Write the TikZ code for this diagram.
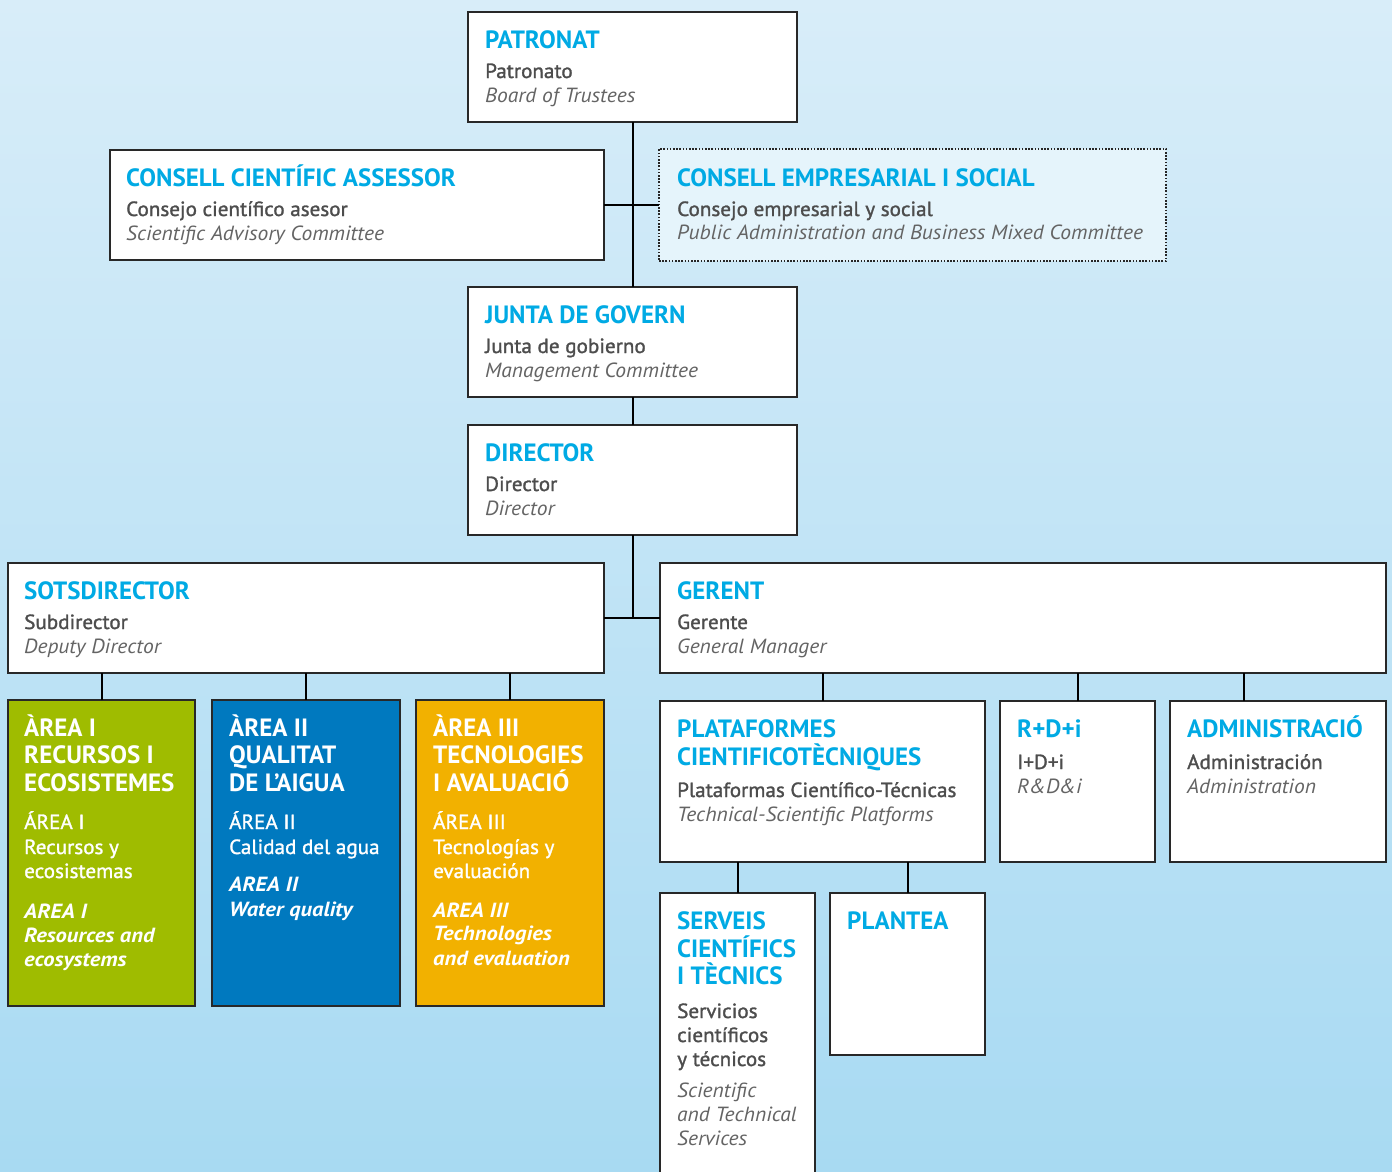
\documentclass[tikz,border=0pt]{standalone}
\usepackage{fontspec}
\setmainfont{PT Sans}
\newfontfamily\subfont[FakeBold=1.4, FakeStretch=1.03]{PT Sans}
\newfontfamily\itfont[FakeStretch=1.05]{PT Sans}
\newfontfamily\bifont[FakeStretch=1.1]{PT Sans}
\usetikzlibrary{calc}
\definecolor{bgtop}{RGB}{216,237,249}
\definecolor{bgbot}{RGB}{168,218,242}
\definecolor{ttl}{RGB}{0,170,228}
\definecolor{gtx}{RGB}{77,77,77}
\definecolor{itx}{RGB}{100,100,100}
\definecolor{agreen}{RGB}{159,188,0}
\definecolor{ablue}{RGB}{0,121,191}
\definecolor{aorange}{RGB}{242,177,0}
\definecolor{cesfill}{RGB}{229,244,251}
\definecolor{edge}{RGB}{40,40,40}
\tikzset{
 box/.style={draw=edge, line width=1.2pt, fill=white, anchor=north west, inner sep=0pt, outer sep=0pt},
 conn/.style={draw=black, line width=2pt},
 tt/.style={anchor=base west, inner sep=0pt, text=ttl, font=\fontsize{25}{28}\selectfont\bfseries},
 gt/.style={anchor=base west, inner sep=0pt, text=gtx, font=\subfont\fontsize{20.5}{24}\selectfont},
 it/.style={anchor=base west, inner sep=0pt, text=itx, font=\itfont\fontsize{20.5}{24}\selectfont\itshape},
 wt/.style={tt, text=white},
 ws/.style={gt, text=white},
 wi/.style={anchor=base west, inner sep=0pt, text=white, font=\bifont\fontsize{20.5}{24}\selectfont\bfseries\itshape},
}
\newcommand\lbl[5]{\node[#2] (#1) at ($(#3.north west)+(#4)$) {#5};}
\begin{document}
\begin{tikzpicture}[x=1pt,y=-1pt]
\useasboundingbox (0,0) rectangle (1392,1171);
\clip (0,0) rectangle (1392,1171);
\shade[top color=bgtop, bottom color=bgbot] (0,0) rectangle (1392,1171);

% boxes
\node[box, minimum width=329pt, minimum height=110pt] (patronat) at (468,12) {};
\node[box, minimum width=494pt, minimum height=110pt] (cca) at (110,150) {};
\node[box, fill=cesfill, draw=black!85, dash pattern=on 1.6pt off 1.6pt, line width=1.4pt, minimum width=507pt, minimum height=112pt] (ces) at (659,149) {};
\node[box, minimum width=329pt, minimum height=110pt] (junta) at (468,287) {};
\node[box, minimum width=329pt, minimum height=110pt] (director) at (468,425) {};
\node[box, minimum width=596pt, minimum height=110pt] (sots) at (8,563) {};
\node[box, minimum width=726pt, minimum height=110pt] (gerent) at (660,563) {};
\node[box, fill=agreen, minimum width=187pt, minimum height=306pt] (area1) at (8,700) {};
\node[box, fill=ablue, minimum width=188pt, minimum height=306pt] (area2) at (212,700) {};
\node[box, fill=aorange, minimum width=188pt, minimum height=306pt] (area3) at (416,700) {};
\node[box, minimum width=325pt, minimum height=161pt] (plat) at (660,701) {};
\node[box, minimum width=155pt, minimum height=161pt] (rdi) at (1000,701) {};
\node[box, minimum width=216pt, minimum height=161pt] (admin) at (1170,701) {};
\node[box, minimum width=155pt, minimum height=300pt] (serveis) at (660,893) {};
\node[box, minimum width=155pt, minimum height=162pt] (plantea) at (830,893) {};

% connectors
\draw[conn] (patronat.south) -- (junta.north);
\draw[conn] (cca.east) -- (ces.west);
\draw[conn] (junta.south) -- (director.north);
\draw[conn] (director.south) -- (director.south |- sots.east);
\draw[conn] (sots.east) -- (gerent.west);
\draw[conn] (area1.north) -- (area1.north |- sots.south);
\draw[conn] (area2.north) -- (area2.north |- sots.south);
\draw[conn] (area3.north) -- (area3.north |- sots.south);
\draw[conn] (plat.north) -- (plat.north |- gerent.south);
\draw[conn] (rdi.north) -- (rdi.north |- gerent.south);
\coordinate (admintop) at ($(admin.north)+(-34,0)$);
\draw[conn] (admintop) -- (admintop |- gerent.south);
\draw[conn] (serveis.north) -- (serveis.north |- plat.south);
\draw[conn] (plantea.north) -- (plantea.north |- plat.south);

% texts
\lbl{pat1}{tt}{patronat}{17,36}{PATRONAT}
\lbl{pat2}{gt}{patronat}{17,66}{Patronato}
\lbl{pat3}{it}{patronat}{17,90}{Board of Trustees}

\lbl{cca1}{tt}{cca}{16,36}{CONSELL CIENTÍFIC ASSESSOR}
\lbl{cca2}{gt}{cca}{16,66}{Consejo científico asesor}
\lbl{cca3}{it}{cca}{16,90}{Scientific Advisory Committee}

\lbl{ces1}{tt}{ces}{18,37}{CONSELL EMPRESARIAL I SOCIAL}
\lbl{ces2}{gt}{ces}{18,67}{Consejo empresarial y social}
\lbl{ces3}{it}{ces}{18,90}{Public Administration and Business Mixed Committee}

\lbl{jun1}{tt}{junta}{17,36}{JUNTA DE GOVERN}
\lbl{jun2}{gt}{junta}{17,66}{Junta de gobierno}
\lbl{jun3}{it}{junta}{17,90}{Management Committee}

\lbl{dir1}{tt}{director}{17,36}{DIRECTOR}
\lbl{dir2}{gt}{director}{17,66}{Director}
\lbl{dir3}{it}{director}{17,90}{Director}

\lbl{sot1}{tt}{sots}{16,36}{SOTSDIRECTOR}
\lbl{sot2}{gt}{sots}{16,66}{Subdirector}
\lbl{sot3}{it}{sots}{16,90}{Deputy Director}

\lbl{ger1}{tt}{gerent}{17,36}{GERENT}
\lbl{ger2}{gt}{gerent}{17,66}{Gerente}
\lbl{ger3}{it}{gerent}{17,90}{General Manager}

\lbl{a1t1}{wt}{area1}{16,36}{ÀREA I}
\lbl{a1t2}{wt}{area1}{16,63.5}{RECURSOS I}
\lbl{a1t3}{wt}{area1}{16,91}{ECOSISTEMES}
\lbl{a1s1}{ws}{area1}{16,129}{ÁREA I}
\lbl{a1s2}{ws}{area1}{16,154}{Recursos y}
\lbl{a1s3}{ws}{area1}{16,178}{ecosistemas}
\lbl{a1i1}{wi}{area1}{16,218}{AREA I}
\lbl{a1i2}{wi}{area1}{16,242}{Resources and}
\lbl{a1i3}{wi}{area1}{16,266}{ecosystems}

\lbl{a2t1}{wt}{area2}{17,36}{ÀREA II}
\lbl{a2t2}{wt}{area2}{17,63.5}{QUALITAT}
\lbl{a2t3}{wt}{area2}{17,91}{DE L’AIGUA}
\lbl{a2s1}{ws}{area2}{17,129}{ÁREA II}
\lbl{a2s2}{ws}{area2}{17,154}{Calidad del agua}
\lbl{a2i1}{wi}{area2}{17,191}{AREA II}
\lbl{a2i2}{wi}{area2}{17,216}{Water quality}

\lbl{a3t1}{wt}{area3}{17,36}{ÀREA III}
\lbl{a3t2}{wt}{area3}{17,63.5}{TECNOLOGIES}
\lbl{a3t3}{wt}{area3}{17,91}{I AVALUACIÓ}
\lbl{a3s1}{ws}{area3}{17,129}{ÁREA III}
\lbl{a3s2}{ws}{area3}{17,154}{Tecnologías y}
\lbl{a3s3}{ws}{area3}{17,178}{evaluación}
\lbl{a3i1}{wi}{area3}{17,217}{AREA III}
\lbl{a3i2}{wi}{area3}{17,240}{Technologies}
\lbl{a3i3}{wi}{area3}{17,265}{and evaluation}

\lbl{pla1}{tt}{plat}{17,36}{PLATAFORMES}
\lbl{pla2}{tt}{plat}{17,64}{CIENTIFICOTÈCNIQUES}
\lbl{pla3}{gt}{plat}{17,96}{Plataformas Científico-Técnicas}
\lbl{pla4}{it}{plat}{17,120}{Technical-Scientific Platforms}

\lbl{rdi1}{tt}{rdi}{17,36}{R+D+i}
\lbl{rdi2}{gt}{rdi}{17,68}{I+D+i}
\lbl{rdi3}{it}{rdi}{17,92}{R\&D\&i}

\lbl{adm1}{tt}{admin}{17,36}{ADMINISTRACIÓ}
\lbl{adm2}{gt}{admin}{17,68}{Administración}
\lbl{adm3}{it}{admin}{17,92}{Administration}

\lbl{ser1}{tt}{serveis}{17,36}{SERVEIS}
\lbl{ser2}{tt}{serveis}{17,64}{CIENTÍFICS}
\lbl{ser3}{tt}{serveis}{17,91}{I TÈCNICS}
\lbl{ser4}{gt}{serveis}{17,125}{Servicios}
\lbl{ser5}{gt}{serveis}{17,149}{científicos}
\lbl{ser6}{gt}{serveis}{17,173}{y técnicos}
\lbl{ser7}{it}{serveis}{17,204}{Scientific}
\lbl{ser8}{it}{serveis}{17,228}{and Technical}
\lbl{ser9}{it}{serveis}{17,252}{Services}

\lbl{plt1}{tt}{plantea}{17,36}{PLANTEA}
\end{tikzpicture}
\end{document}
